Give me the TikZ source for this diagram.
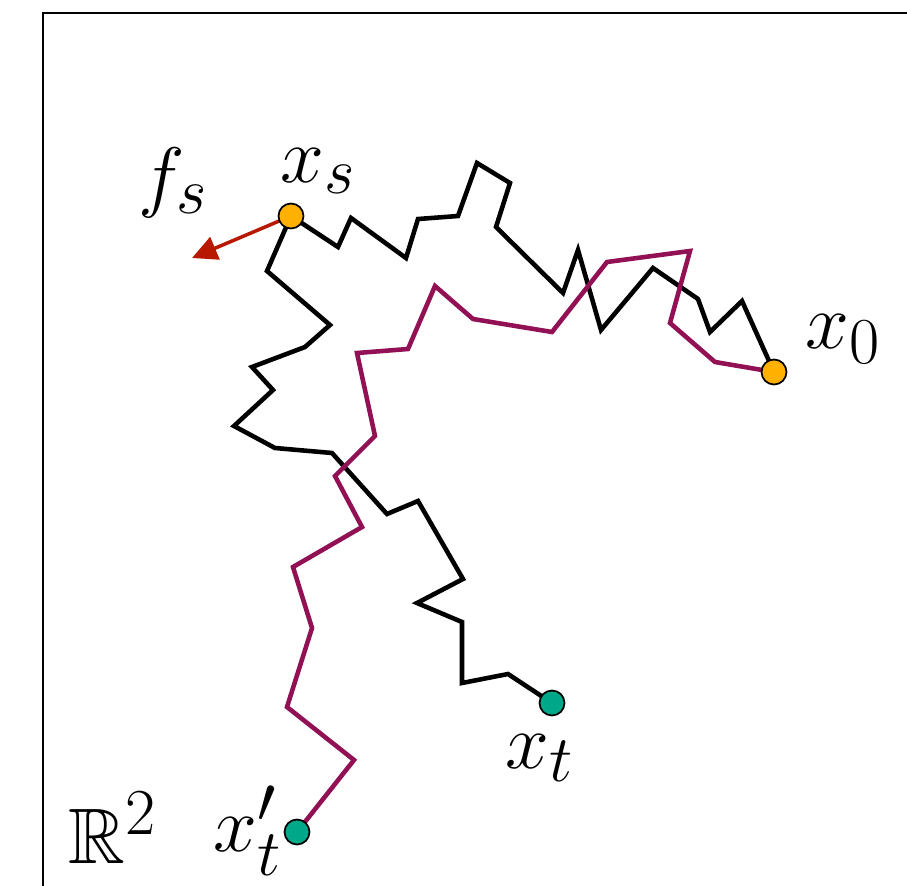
\documentclass[tikz,border=0pt]{standalone}
\usepackage{amssymb}
\usetikzlibrary{arrows.meta,backgrounds}
\definecolor{walkpurple}{RGB}{146,17,85}
\definecolor{forcered}{RGB}{184,24,0}
\definecolor{dotorange}{RGB}{255,176,0}
\definecolor{dotteal}{RGB}{0,168,138}

\begin{document}
\begin{tikzpicture}[
    x=0.02cm, y=-0.02cm,
    dot/.style={circle, draw, line width=1pt, minimum size=0.5cm, inner sep=0pt},
    walk/.style={line width=2.6pt},
    force/.style={forcered, line width=2pt, -{Triangle[length=0.5cm, width=0.48cm]}},
    lbl/.style={anchor=base west, inner sep=0pt, font=\Huge, scale=1.8}
]
    \useasboundingbox (0,0) rectangle (907,886);

    % end points of the walks
    \node[dot, fill=dotorange] (xs)  at (291,216) {};
    \node[dot, fill=dotorange] (x0)  at (774,372) {};
    \node[dot, fill=dotteal]   (xt)  at (552,703) {};
    \node[dot, fill=dotteal]   (xtp) at (297,832) {};
    \coordinate (fs tip) at (192,258);

    \node[lbl] (xs label)    at (280,182) {$x_s$};
    \node[lbl] (fs label)    at (138,202) {$f_s$};
    \node[lbl] (x0 label)    at (805,348) {$x_0$};
    \node[lbl] (xt label)    at (505,768) {$x_t$};
    \node[lbl] (xtp label)   at (213,851) {$x'_t$};
    \node[lbl] (space label) at (68,863)  {$\mathbb{R}^2$};

    \begin{scope}[on background layer]
    \draw[line width=1.3pt] (43,886) -- (43,13) -- (907,13);

    \draw[walk] (xs.center) -- (338,247) -- (351,218) -- (406,258) -- (418,219) -- (458,216)
        -- (477,163) -- (510,183) -- (496,227) -- (563,293) -- (578,250) -- (601,330)
        -- (653,268) -- (698,299) -- (710,332) -- (742,301) -- (x0.center);
    \draw[walk] (xs.center) -- (267,271) -- (330,325) -- (305,347) -- (252,367) -- (273,390)
        -- (234,426) -- (275,448) -- (332,453) -- (387,514) -- (418,501) -- (463,579)
        -- (417,603) -- (462,622) -- (462,683) -- (508,674) -- (xt.center);
    \draw[walk, walkpurple] (x0.center) -- (715,362) -- (670,323) -- (690,251) -- (607,262)
        -- (552,332) -- (473,319) -- (435,286) -- (408,349) -- (357,353) -- (375,436)
        -- (335,476) -- (362,527) -- (293,567) -- (312,628) -- (287,707) -- (354,760)
        -- (xtp.center);

    \draw[force] (xs.center) -- (fs tip);
    \end{scope}
\end{tikzpicture}
\end{document}
